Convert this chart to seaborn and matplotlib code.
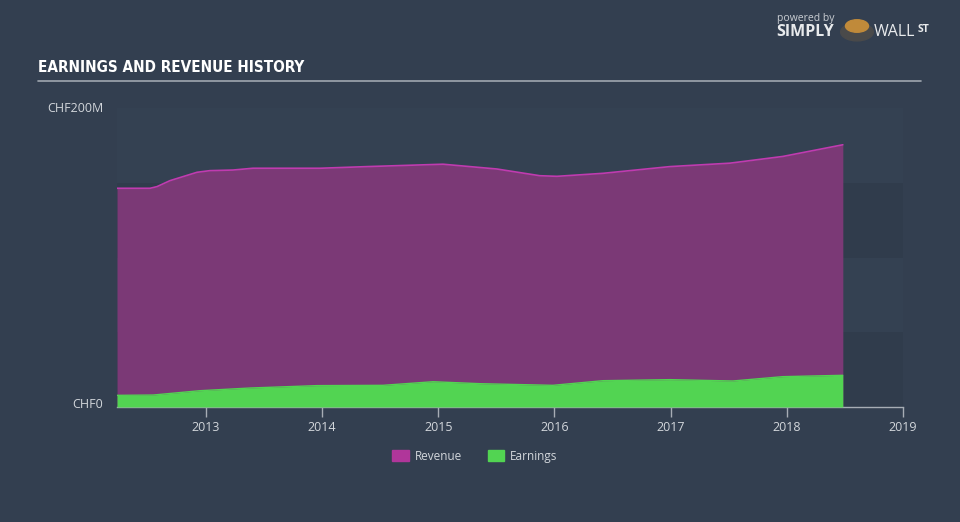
import matplotlib
matplotlib.use("Agg")
import matplotlib.pyplot as plt
import matplotlib.patches as mpatches
import seaborn as sns
import pandas as pd

# revenue history (CHF millions)
rev_years = [2012.234, 2012.518, 2012.578, 2012.690, 2012.923, 2013.034, 2013.232,
             2013.404, 2013.981, 2014.386, 2015.040, 2015.272, 2015.504, 2015.874,
             2016.021, 2016.417, 2016.993, 2017.510, 2017.966, 2018.482]
revenue = [146.3, 146.3, 147.4, 151.4, 157.0, 158.1, 158.5,
           159.7, 159.7, 160.8, 162.4, 160.8, 159.2, 154.7,
           154.3, 156.3, 160.8, 163.1, 167.6, 175.4]

# earnings history (CHF millions)
earn_years = [2012.234, 2012.544, 2012.948, 2013.379, 2013.955, 2014.523, 2014.954,
              2015.358, 2015.986, 2016.417, 2016.993, 2017.535, 2017.966, 2018.482]
earnings = [7.8, 8.0, 10.9, 12.7, 14.3, 14.5, 16.9,
            15.6, 14.5, 17.6, 18.3, 17.4, 20.3, 21.2]

x_ticks = [2013, 2014, 2015, 2016, 2017, 2018, 2019]

BG = "#333f50"
REV_FILL = "#7b3976"
REV_LINE = "#c03bb0"
EARN = "#52d452"
TXT = "#d2d6db"

sns.set_style("dark")
plt.rcParams["font.family"] = ["Open Sans", "DejaVu Sans"]

fig = plt.figure(figsize=(9.6, 5.22), dpi=100, facecolor=BG)
ax = fig.add_axes([117 / 960, 1 - 407 / 522, (903 - 117) / 960, (407 - 108) / 522])
ax.set_facecolor("#344152")

# faint horizontal bands behind the areas
for lo, hi in [(0, 50), (100, 150)]:
    ax.axhspan(lo, hi, color="#303c4c", zorder=0, lw=0)

rev_df = pd.DataFrame({"year": rev_years, "value": revenue})
earn_df = pd.DataFrame({"year": earn_years, "value": earnings})

ax.fill_between(rev_df["year"], 0, rev_df["value"], color=REV_FILL, lw=0, zorder=2)
sns.lineplot(data=rev_df, x="year", y="value", color=REV_LINE, lw=1.2, ax=ax, zorder=3)
ax.fill_between(earn_df["year"], 0, earn_df["value"], color=EARN, lw=0, zorder=4)
sns.lineplot(data=earn_df, x="year", y="value", color=EARN, lw=1.0, ax=ax, zorder=5)

ax.set_xlim(2012.234, 2019)
ax.set_ylim(0, 200)
ax.set_xticks(x_ticks)
ax.set_xticklabels([str(t) for t in x_ticks], color=TXT, fontsize=9)
ax.set_yticks([])
ax.set_xlabel("")
ax.set_ylabel("")
ax.tick_params(axis="x", length=7, width=1, color="#a7adb5", pad=3, bottom=True)
for side in ["top", "right", "left"]:
    ax.spines[side].set_visible(False)
ax.spines["bottom"].set_visible(True)
ax.spines["bottom"].set_color("#a7adb5")
ax.spines["bottom"].set_linewidth(1)
ax.grid(False)

# y labels
fig.text(103 / 960, 1 - 108 / 522, "CHF200M", color=TXT, fontsize=9, ha="right", va="center")
fig.text(103 / 960, 1 - 404 / 522, "CHF0", color=TXT, fontsize=9, ha="right", va="center")

# title and rule
fig.text(38 / 960, 1 - 68 / 522, "EARNINGS AND REVENUE HISTORY", color="white", fontsize=11,
         fontweight="bold", fontstretch="condensed", family="DejaVu Sans", ha="left", va="center")
fig.add_artist(plt.Line2D([38 / 960, 921 / 960], [1 - 81 / 522] * 2, color="#a0a7b0", lw=1.2))

# branding
fig.text(777 / 960, 1 - 18 / 522, "powered by", color="#c9cdd2", fontsize=7.5, ha="left", va="center")
fig.text(776 / 960, 1 - 32 / 522, "SIMPLY", color="#e8eaec", fontsize=11.5, fontweight="bold",
         ha="left", va="center")
fig.add_artist(mpatches.Circle((857 / 960, 1 - 32 / 522), 0.017, transform=fig.transFigure,
                               color="#4a4a4a", zorder=5))
fig.add_artist(mpatches.Circle((857 / 960, 1 - 26 / 522), 0.012, transform=fig.transFigure,
                               color="#c08a3a", zorder=6))
fig.text(874 / 960, 1 - 32 / 522, "WALL", color="#e8eaec", fontsize=11.5, ha="left", va="center")
fig.text(918 / 960, 1 - 29 / 522, "ST", color="#e8eaec", fontsize=7.5, fontweight="bold",
         ha="left", va="center")

# legend
handles = [mpatches.Patch(color="#b0369a", label="Revenue"),
           mpatches.Patch(color=EARN, label="Earnings")]
fig.legend(handles=handles, loc="center", bbox_to_anchor=(475 / 960, 1 - 456 / 522), ncol=2,
           frameon=False, fontsize=8.5, labelcolor=TXT, handlelength=1.4, handleheight=1.0,
           columnspacing=2.2, handletextpad=0.5)

fig.savefig("out.png", dpi=100, facecolor=BG)
